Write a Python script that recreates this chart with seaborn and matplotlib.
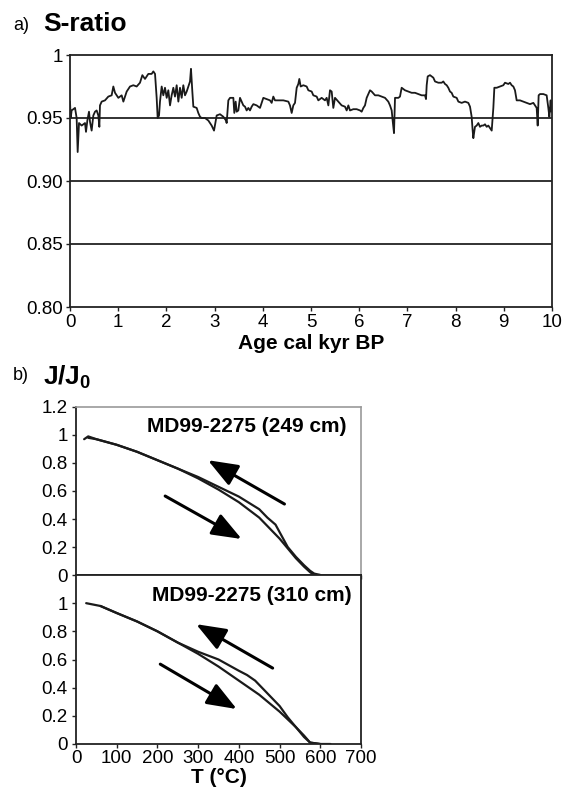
import numpy as np
import pandas as pd
import matplotlib
matplotlib.use("Agg")
import matplotlib.pyplot as plt
import seaborn as sns

# ---- S-ratio record, MD99-2275 (age in cal kyr BP) ----
age_kyr = [0.000, 0.015, 0.034, 0.104, 0.138, 0.159, 0.187, 0.242, 0.311, 0.332,
           0.360, 0.394, 0.415, 0.449, 0.484, 0.519, 0.553, 0.588, 0.609, 0.622,
           0.657, 0.726, 0.795, 0.864, 0.899, 0.934, 1.003, 1.072, 1.107, 1.176,
           1.245, 1.314, 1.383, 1.452, 1.501, 1.556, 1.625, 1.694, 1.729, 1.764,
           1.798, 1.819, 1.847, 1.867, 1.902, 1.936, 1.971, 2.006, 2.040, 2.075,
           2.109, 2.144, 2.178, 2.213, 2.248, 2.282, 2.317, 2.351, 2.386, 2.421,
           2.455, 2.490, 2.510, 2.538, 2.559, 2.628, 2.662, 2.697, 2.731, 2.801,
           2.870, 2.939, 2.988, 3.043, 3.112, 3.181, 3.237, 3.250, 3.285, 3.320,
           3.354, 3.389, 3.409, 3.437, 3.458, 3.492, 3.527, 3.562, 3.596, 3.631,
           3.665, 3.700, 3.734, 3.769, 3.804, 3.873, 3.907, 3.942, 3.976, 4.011,
           4.080, 4.149, 4.184, 4.218, 4.253, 4.322, 4.426, 4.530, 4.564, 4.599,
           4.633, 4.668, 4.703, 4.737, 4.758, 4.786, 4.841, 4.910, 4.945, 5.014,
           5.048, 5.118, 5.152, 5.221, 5.290, 5.325, 5.360, 5.394, 5.429, 5.463,
           5.498, 5.567, 5.636, 5.705, 5.740, 5.775, 5.809, 5.878, 5.947, 6.017,
           6.051, 6.086, 6.120, 6.155, 6.224, 6.259, 6.328, 6.397, 6.466, 6.535,
           6.604, 6.639, 6.674, 6.694, 6.722, 6.743, 6.777, 6.812, 6.846, 6.881,
           6.916, 6.950, 7.019, 7.088, 7.158, 7.227, 7.296, 7.365, 7.386, 7.400,
           7.421, 7.469, 7.538, 7.573, 7.642, 7.711, 7.745, 7.780, 7.815, 7.849,
           7.884, 7.918, 7.953, 8.022, 8.057, 8.126, 8.195, 8.264, 8.299, 8.333,
           8.354, 8.368, 8.402, 8.437, 8.472, 8.506, 8.541, 8.575, 8.610, 8.645,
           8.679, 8.714, 8.749, 8.783, 8.804, 8.852, 8.921, 8.990, 9.025, 9.094,
           9.129, 9.163, 9.198, 9.232, 9.267, 9.336, 9.405, 9.474, 9.544, 9.613,
           9.647, 9.682, 9.703, 9.723, 9.751, 9.820, 9.889, 9.924, 9.945, 9.972,
           9.986, 10.000]
s_ratio = [0.963, 0.950, 0.956, 0.958, 0.950, 0.923, 0.946, 0.944, 0.946, 0.939,
           0.948, 0.955, 0.947, 0.940, 0.952, 0.955, 0.956, 0.952, 0.943, 0.960,
           0.963, 0.964, 0.967, 0.968, 0.975, 0.970, 0.966, 0.968, 0.963, 0.971,
           0.975, 0.976, 0.975, 0.978, 0.984, 0.981, 0.985, 0.985, 0.987, 0.985,
           0.966, 0.950, 0.952, 0.963, 0.975, 0.968, 0.974, 0.966, 0.972, 0.960,
           0.968, 0.974, 0.967, 0.976, 0.963, 0.974, 0.966, 0.976, 0.968, 0.971,
           0.975, 0.979, 0.989, 0.971, 0.959, 0.958, 0.954, 0.951, 0.950, 0.950,
           0.948, 0.944, 0.940, 0.952, 0.953, 0.951, 0.948, 0.946, 0.964, 0.966,
           0.966, 0.966, 0.954, 0.963, 0.955, 0.956, 0.966, 0.963, 0.960, 0.959,
           0.956, 0.958, 0.956, 0.959, 0.961, 0.960, 0.959, 0.958, 0.962, 0.966,
           0.965, 0.964, 0.962, 0.967, 0.964, 0.964, 0.964, 0.963, 0.960, 0.954,
           0.960, 0.962, 0.974, 0.977, 0.981, 0.975, 0.976, 0.975, 0.972, 0.971,
           0.968, 0.967, 0.964, 0.966, 0.964, 0.966, 0.960, 0.972, 0.971, 0.958,
           0.966, 0.963, 0.960, 0.959, 0.956, 0.960, 0.956, 0.957, 0.957, 0.956,
           0.955, 0.958, 0.960, 0.966, 0.972, 0.971, 0.968, 0.968, 0.967, 0.966,
           0.963, 0.960, 0.956, 0.948, 0.938, 0.966, 0.966, 0.966, 0.967, 0.974,
           0.973, 0.972, 0.971, 0.970, 0.970, 0.969, 0.968, 0.968, 0.965, 0.976,
           0.983, 0.984, 0.982, 0.979, 0.978, 0.978, 0.979, 0.977, 0.976, 0.974,
           0.971, 0.970, 0.967, 0.966, 0.963, 0.962, 0.963, 0.962, 0.959, 0.951,
           0.940, 0.934, 0.943, 0.944, 0.946, 0.943, 0.944, 0.944, 0.945, 0.943,
           0.944, 0.942, 0.940, 0.958, 0.974, 0.974, 0.975, 0.976, 0.978, 0.977,
           0.978, 0.976, 0.975, 0.972, 0.964, 0.964, 0.963, 0.962, 0.961, 0.962,
           0.960, 0.958, 0.944, 0.968, 0.969, 0.969, 0.968, 0.958, 0.951, 0.964,
           0.955, 0.962]

s_yticks = [0.80, 0.85, 0.90, 0.95, 1.00]
s_yticklabels = ["0.80", "0.85", "0.90", "0.95", "1"]
age_ticks = list(range(0, 11))

# ---- Thermomagnetic curves J/J0 vs T (degC) ----
# 249 cm: heating branch and cooling branch
t249_heat = [20, 30, 50, 100, 150, 200, 250, 300, 350, 400, 450, 500, 520, 540, 560, 575, 585, 600]
j249_heat = [0.97, 0.99, 0.97, 0.93, 0.88, 0.82, 0.76, 0.69, 0.61, 0.52, 0.41, 0.26, 0.19, 0.12, 0.06, 0.02, 0.00, 0.00]
t249_cool = [600, 585, 575, 560, 540, 520, 505, 490, 470, 450, 400, 350, 300, 250, 200, 150, 100, 50, 30]
j249_cool = [0.00, 0.01, 0.03, 0.07, 0.13, 0.20, 0.28, 0.36, 0.41, 0.47, 0.56, 0.63, 0.70, 0.76, 0.82, 0.88, 0.93, 0.97, 0.98]

# 310 cm: heating branch and cooling branch
t310_heat = [25, 60, 100, 150, 200, 250, 300, 350, 400, 450, 500, 540, 560, 575, 600, 625]
j310_heat = [1.00, 0.98, 0.93, 0.87, 0.80, 0.72, 0.64, 0.55, 0.45, 0.35, 0.23, 0.12, 0.06, 0.01, 0.00, 0.00]
t310_cool = [600, 575, 560, 540, 520, 500, 480, 460, 440, 420, 400, 350, 300, 250, 200, 150, 100, 60]
j310_cool = [0.00, 0.01, 0.05, 0.12, 0.19, 0.27, 0.33, 0.39, 0.45, 0.49, 0.52, 0.60, 0.655, 0.72, 0.80, 0.87, 0.93, 0.98]

t_ticks = list(range(0, 701, 100))
j_ticks_top = [0, 0.2, 0.4, 0.6, 0.8, 1.0, 1.2]
j_labels_top = ["0", "0.2", "0.4", "0.6", "0.8", "1", "1.2"]
j_ticks_bot = [0, 0.2, 0.4, 0.6, 0.8, 1.0]
j_labels_bot = ["0", "0.2", "0.4", "0.6", "0.8", "1"]

sns.set_theme(style="ticks")
plt.rcParams["font.family"] = ["Liberation Sans", "DejaVu Sans"]
plt.rcParams["mathtext.fontset"] = "custom"
plt.rcParams["mathtext.rm"] = "Liberation Sans"
plt.rcParams["mathtext.bf"] = "Liberation Sans:bold"
plt.rcParams["text.color"] = "black"
plt.rcParams["xtick.labelcolor"] = "black"
plt.rcParams["ytick.labelcolor"] = "black"
plt.rcParams["axes.labelcolor"] = "black"

W, H = 573, 791
fig = plt.figure(figsize=(W / 100, H / 100), dpi=100)


def box(l, t, r, b):
    return [l / W, 1 - b / H, (r - l) / W, (b - t) / H]


# ---------------- panel a ----------------
ax_a = fig.add_axes(box(70, 55, 552, 307))
df_s = pd.DataFrame({"age": age_kyr, "S": s_ratio})
sns.lineplot(data=df_s, x="age", y="S", ax=ax_a, color="#1a1a1a", lw=1.3,
             estimator=None, sort=False)
ax_a.set_xlim(0, 10)
ax_a.set_ylim(0.80, 1.00)
ax_a.set_xticks(age_ticks)
ax_a.set_xticklabels([str(v) for v in age_ticks])
ax_a.set_yticks(s_yticks)
ax_a.set_yticklabels(s_yticklabels)
for yv in s_yticks[1:-1]:
    ax_a.axhline(yv, color="#222222", lw=1.3, zorder=1)
ax_a.set_xlabel("Age cal kyr BP", fontsize=15, fontweight="bold", labelpad=2)
ax_a.set_ylabel("")
ax_a.tick_params(axis="both", direction="out", length=3, width=1, labelsize=13.5,
                 pad=2, color="#222222")
for sp in ax_a.spines.values():
    sp.set_color("#222222")
    sp.set_linewidth(1.3)

fig.text(13 / W, 1 - 25 / H, "a)", fontsize=13, va="center", ha="left")
fig.text(43 / W, 1 - 24 / H, "S-ratio", fontsize=19, fontweight="bold",
         va="center", ha="left")

# ---------------- panel b ----------------
ax_b1 = fig.add_axes(box(76, 407, 361, 575))
ax_b2 = fig.add_axes(box(76, 575, 361, 744))


def thermo(ax, th, jh, tc, jc):
    d_heat = pd.DataFrame({"T": th, "J": jh})
    d_cool = pd.DataFrame({"T": tc, "J": jc})
    for d in (d_heat, d_cool):
        sns.lineplot(data=d, x="T", y="J", ax=ax, color="#1a1a1a", lw=1.6,
                     estimator=None, sort=False)
    ax.set_xlim(0, 700)
    ax.set_ylim(0, 1.2)
    ax.set_xticks(t_ticks)
    ax.set_xlabel("")
    ax.set_ylabel("")
    ax.tick_params(axis="both", direction="out", length=3, width=1,
                   labelsize=13.5, pad=3, color="#222222")


thermo(ax_b1, t249_heat, j249_heat, t249_cool, j249_cool)
thermo(ax_b2, t310_heat, j310_heat, t310_cool, j310_cool)

ax_b1.set_yticks(j_ticks_top)
ax_b1.set_yticklabels(j_labels_top)
ax_b1.set_xticklabels([])
ax_b2.set_yticks(j_ticks_bot)
ax_b2.set_yticklabels(j_labels_bot)
ax_b2.set_xticklabels([str(v) for v in t_ticks])
ax_b2.tick_params(axis="x", pad=1)
ax_b2.set_xlabel("T (°C)", fontsize=15, fontweight="bold", labelpad=1)

for sp in ("left", "bottom"):
    ax_b1.spines[sp].set_color("#222222")
    ax_b1.spines[sp].set_linewidth(1.3)
for sp in ("top", "right"):
    ax_b1.spines[sp].set_color("#9a9a9a")
    ax_b1.spines[sp].set_linewidth(1.2)
for sp in ax_b2.spines.values():
    sp.set_color("#222222")
    sp.set_linewidth(1.3)

ax_b1.text(665, 1.064, "MD99-2275 (249 cm)", fontsize=15, fontweight="bold",
           ha="right", va="center")
ax_b2.text(678, 1.057, "MD99-2275 (310 cm)", fontsize=15, fontweight="bold",
           ha="right", va="center")

arrow_kw = dict(arrowstyle="-|>,head_length=1.3,head_width=0.5", lw=2.2,
                color="black", shrinkA=0, shrinkB=0, mutation_scale=14)
ax_b1.annotate("", xy=(324, 0.82), xytext=(512, 0.507), arrowprops=arrow_kw)
ax_b1.annotate("", xy=(407, 0.257), xytext=(219, 0.564), arrowprops=arrow_kw)
ax_b2.annotate("", xy=(295, 0.851), xytext=(483, 0.539), arrowprops=arrow_kw)
ax_b2.annotate("", xy=(395, 0.248), xytext=(207, 0.567), arrowprops=arrow_kw)

fig.text(13 / W, 1 - 375 / H, "b)", fontsize=13, va="center", ha="left")
fig.text(43 / W, 1 - 377 / H, r"$\mathbf{J/J_0}$", fontsize=19,
         va="center", ha="left")

fig.savefig("out.png", dpi=100, facecolor="white")
